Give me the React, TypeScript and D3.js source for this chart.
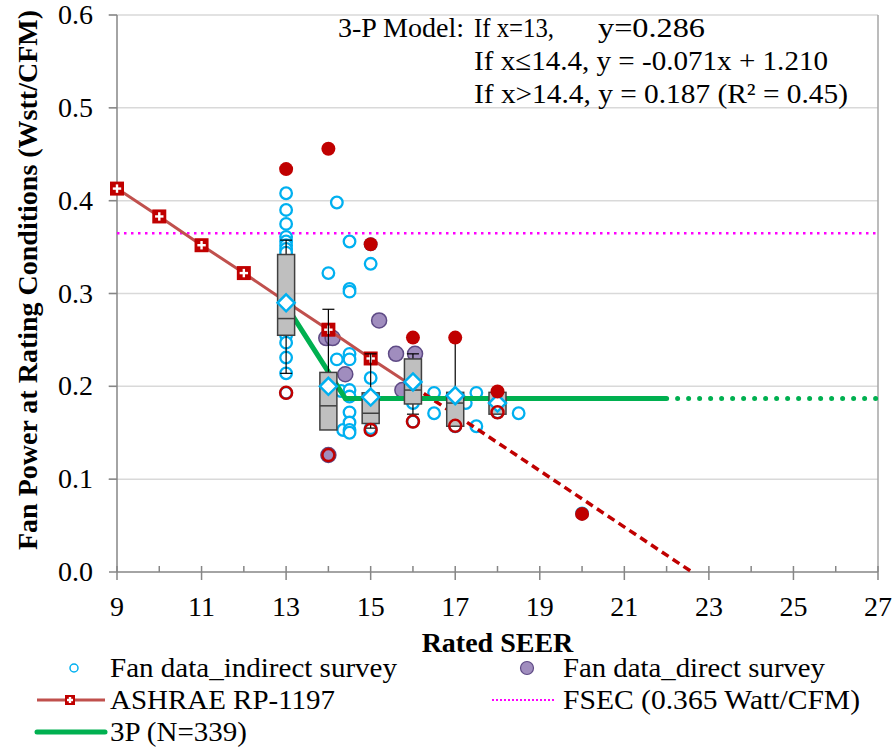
import * as d3 from "d3";

// axis ticks
const seerTicks = [9, 11, 13, 15, 17, 19, 21, 23, 25, 27];
const seerMinorTicks = [10, 12, 14, 16, 18, 20, 22, 24, 26];
const powerTicks = [0, 0.1, 0.2, 0.3, 0.4, 0.5, 0.6];

// ASHRAE RP-1197 reference line (solid part + dashed extrapolation)
const ashraeSeer = [9, 10, 11, 12, 13, 14, 15, 16];
const ashraePower = [0.413, 0.383, 0.352, 0.322, 0.291, 0.261, 0.23, 0.2];
const ashraeExtSeer = [16, 22.6];
const ashraeExtPower = [0.2, 0.0];

// FSEC constant
const fsecPower = 0.365;

// 3-P model
const modelSeer = [13, 14.4, 22];
const modelPower = [0.287, 0.187, 0.187];
const modelExtSeer = [22, 27];
const modelExtPower = [0.187, 0.187];

// fan data, indirect survey
const indirectSeer = [
  13, 13, 13, 13, 13, 13, 13, 13, 13, 13, 13, 13, 13, 13,
  14, 14, 14.2, 14.2, 14.3, 14.35,
  14.5, 14.5, 14.5, 14.5, 14.5, 14.5, 14.5, 14.5, 14.5, 14.5, 14.5,
  15, 15, 15, 15, 15,
  16, 16, 16, 16.5, 16.5, 17, 17, 17.25, 17.5, 17.5, 18, 18, 18.5, 20,
];
const indirectPower = [
  0.408, 0.39, 0.375, 0.361, 0.356, 0.352, 0.348, 0.344, 0.26, 0.255, 0.247, 0.231, 0.214, 0.193,
  0.322, 0.2, 0.398, 0.229, 0.195, 0.153,
  0.356, 0.305, 0.302, 0.235, 0.229, 0.196, 0.189, 0.172, 0.161, 0.153, 0.15,
  0.353, 0.332, 0.209, 0.189, 0.155,
  0.213, 0.182, 0.162, 0.193, 0.171, 0.19, 0.157, 0.182, 0.193, 0.157, 0.182, 0.172, 0.171, 0.063,
];

// fan data, direct survey
const directSeer = [13.95, 14.1, 14.4, 15.2, 15.6, 16.05, 15.75, 14.0];
const directPower = [0.252, 0.252, 0.213, 0.271, 0.235, 0.235, 0.196, 0.126];

// box plots per rated SEER
const boxSeer = [13, 14, 15, 16, 17, 18];
const boxLow = [0.214, 0.153, 0.155, 0.17, 0.157, 0.172];
const boxQ1 = [0.255, 0.153, 0.16, 0.181, 0.157, 0.17];
const boxMedian = [0.273, 0.179, 0.171, 0.196, 0.182, 0.18];
const boxQ3 = [0.342, 0.215, 0.193, 0.2295, 0.1935, 0.1935];
const boxHigh = [0.3575, 0.283, 0.235, 0.235, 0.2525, 0.1935];
const boxMean = [0.29, 0.2, 0.1885, 0.2047, 0.19, 0.182];

// max / min markers
const maxSeer = [13, 14, 15, 16, 17, 18, 20];
const maxPower = [0.434, 0.456, 0.353, 0.2525, 0.2525, 0.1945, 0.0626];
const minSeer = [13, 14, 15, 16, 17, 18];
const minPower = [0.193, 0.126, 0.153, 0.162, 0.1575, 0.172];

const W = 894;
const H = 751;
const FONT = "'Liberation Serif', 'Times New Roman', serif";

const x = d3.scaleLinear().domain([9, 27]).range([117, 878]);
const y = d3.scaleLinear().domain([0, 0.6]).range([572, 15]);

const line = d3
  .line<[number, number]>()
  .x((d) => x(d[0]))
  .y((d) => y(d[1]));

const zip = (a: number[], b: number[]): [number, number][] => a.map((v, i) => [v, b[i]]);

function Cross({ cx, cy, s }: { cx: number; cy: number; s: number }) {
  return (
    <g>
      <rect x={cx - s / 2} y={cy - s / 2} width={s} height={s} fill="#C00000" />
      <line x1={cx - s * 0.3} x2={cx + s * 0.3} y1={cy} y2={cy} stroke="#fff" strokeWidth={2.4} />
      <line x1={cx} x2={cx} y1={cy - s * 0.3} y2={cy + s * 0.3} stroke="#fff" strokeWidth={2.4} />
    </g>
  );
}

// text stretched to the width it has in the picture
function T({ x0, y0, w, children }: { x0: number; y0: number; w: number; children: string }) {
  return (
    <text x={x0} y={y0} textLength={w} lengthAdjust="spacingAndGlyphs">
      {children}
    </text>
  );
}

export default function App() {
  const half = 8.5;
  return (
    <svg
      width={W}
      height={H}
      style={{ position: "absolute", left: 0, top: 0, background: "#fff" }}
      fontFamily={FONT}
    >
      {/* grid */}
      {powerTicks.slice(1).map((t) => (
        <line key={t} x1={108} x2={878} y1={y(t)} y2={y(t)} stroke="#D9D9D9" strokeWidth={1.5} />
      ))}
      <line x1={878} x2={878} y1={15} y2={572} stroke="#A6A6A6" strokeWidth={1.5} />

      {/* axes */}
      <line x1={117} x2={117} y1={15} y2={572} stroke="#868686" strokeWidth={1.5} />
      <line x1={117} x2={878} y1={572} y2={572} stroke="#868686" strokeWidth={1.5} />
      {powerTicks.map((t) => (
        <g key={t}>
          <line x1={109} x2={117} y1={y(t)} y2={y(t)} stroke="#868686" strokeWidth={1.5} />
          <text x={93} y={y(t) + 9} textAnchor="end" fontSize={28}>
            {d3.format(".1f")(t)}
          </text>
        </g>
      ))}
      {seerTicks.map((t) => (
        <g key={t}>
          <line x1={x(t)} x2={x(t)} y1={566} y2={580} stroke="#868686" strokeWidth={1.5} />
          <text x={x(t)} y={616} textAnchor="middle" fontSize={28}>
            {t}
          </text>
        </g>
      ))}
      {seerMinorTicks.map((t) => (
        <line key={t} x1={x(t)} x2={x(t)} y1={566} y2={572} stroke="#868686" strokeWidth={1.5} />
      ))}

      <text x={x(18)} y={652} textAnchor="middle" fontSize={28} fontWeight="bold">
        Rated SEER
      </text>
      <text
        transform={`translate(37, 280) rotate(-90)`}
        textAnchor="middle"
        fontSize={28}
        fontWeight="bold"
      >
        Fan Power at Rating Conditions (Wstt/CFM)
      </text>

      {/* FSEC */}
      <line
        x1={x(9)}
        x2={x(27)}
        y1={y(fsecPower)}
        y2={y(fsecPower)}
        stroke="#FF00FF"
        strokeWidth={2.5}
        strokeDasharray="2.5 4.5"
      />

      {/* indirect survey */}
      {indirectSeer.map((s, i) => (
        <circle key={i} cx={x(s)} cy={y(indirectPower[i])} r={5.8} fill="#fff" stroke="#00B0F0" strokeWidth={2.3} />
      ))}
      {/* direct survey */}
      {directSeer.map((s, i) => (
        <circle key={i} cx={x(s)} cy={y(directPower[i])} r={7.5} fill="#A08DBE" stroke="#5E4A85" strokeWidth={1.5} />
      ))}

      {/* ASHRAE */}
      <path d={line(zip(ashraeSeer, ashraePower)) ?? ""} fill="none" stroke="#C0504D" strokeWidth={3} />
      <path
        d={line(zip(ashraeExtSeer, ashraeExtPower)) ?? ""}
        fill="none"
        stroke="#C00000"
        strokeWidth={3.5}
        strokeDasharray="8 5"
      />
      {ashraeSeer.map((s, i) => (
        <Cross key={i} cx={x(s)} cy={y(ashraePower[i])} s={14} />
      ))}

      {/* 3P model */}
      <path d={line(zip(modelSeer, modelPower)) ?? ""} fill="none" stroke="#00B050" strokeWidth={5} />
      <path
        d={line(zip(modelExtSeer, modelExtPower)) ?? ""}
        fill="none"
        stroke="#00B050"
        strokeWidth={5}
        strokeLinecap="round"
        strokeDasharray="0 11"
      />

      {/* box plots */}
      {boxSeer.map((s, i) => {
        const cx = x(s);
        const my = y(boxMean[i]);
        return (
          <g key={s}>
            {boxHigh[i] > boxQ3[i] && (
              <g stroke="#000" strokeWidth={1.2}>
                <line x1={cx} x2={cx} y1={y(boxHigh[i])} y2={y(boxQ3[i])} />
                <line x1={cx - 6} x2={cx + 6} y1={y(boxHigh[i])} y2={y(boxHigh[i])} />
              </g>
            )}
            {boxLow[i] < boxQ1[i] && (
              <g stroke="#000" strokeWidth={1.2}>
                <line x1={cx} x2={cx} y1={y(boxQ1[i])} y2={y(boxLow[i])} />
                <line x1={cx - 6} x2={cx + 6} y1={y(boxLow[i])} y2={y(boxLow[i])} />
              </g>
            )}
            <rect
              x={cx - half}
              y={y(boxQ3[i])}
              width={half * 2}
              height={y(boxQ1[i]) - y(boxQ3[i])}
              fill="#BFBFBF"
              stroke="#404040"
              strokeWidth={1.5}
            />
            <line x1={cx - half} x2={cx + half} y1={y(boxMedian[i])} y2={y(boxMedian[i])} stroke="#404040" strokeWidth={1.5} />
            <path
              d={`M${cx},${my - 8.5}L${cx + 8.5},${my}L${cx},${my + 8.5}L${cx - 8.5},${my}Z`}
              fill="#fff"
              stroke="#00B0F0"
              strokeWidth={2.5}
            />
          </g>
        );
      })}

      {/* min / max */}
      {minSeer.map((s, i) => (
        <circle key={i} cx={x(s)} cy={y(minPower[i])} r={6} fill="none" stroke="#C00000" strokeWidth={2.5} />
      ))}
      {maxSeer.map((s, i) => (
        <circle key={i} cx={x(s)} cy={y(maxPower[i])} r={7} fill="#C00000" />
      ))}

      {/* model annotation */}
      <g fontSize={28}>
        <T x0={338} y0={37} w={126}>3-P Model:</T>
        <T x0={474} y0={37} w={80}>If x=13,</T>
        <T x0={598} y0={37} w={107}>y=0.286</T>
        <T x0={474} y0={70} w={354}>If x≤14.4, y = -0.071x + 1.210</T>
        <T x0={474} y0={103} w={374}>If x&gt;14.4, y = 0.187 (R² = 0.45)</T>
      </g>

      {/* legend */}
      <g fontSize={28}>
        <circle cx={74} cy={668} r={4} fill="#fff" stroke="#00B0F0" strokeWidth={1.5} />
        <T x0={110} y0={677} w={287}>Fan data_indirect survey</T>
        <circle cx={527} cy={668} r={6.5} fill="#A08DBE" stroke="#5E4A85" strokeWidth={1.2} />
        <T x0={563} y0={677} w={262}>Fan data_direct survey</T>

        <line x1={37} x2={105} y1={700} y2={700} stroke="#C0504D" strokeWidth={3} />
        <Cross cx={70} cy={700} s={10} />
        <T x0={110} y0={709} w={225}>ASHRAE RP-1197</T>
        <line x1={492} x2={556} y1={700} y2={700} stroke="#FF00FF" strokeWidth={2} strokeDasharray="2 2" />
        <T x0={563} y0={709} w={297}>FSEC (0.365 Watt/CFM)</T>

        <line x1={37} x2={105} y1={732} y2={732} stroke="#00B050" strokeWidth={5} strokeLinecap="round" />
        <T x0={110} y0={741} w={137}>3P (N=339)</T>
      </g>
    </svg>
  );
}
